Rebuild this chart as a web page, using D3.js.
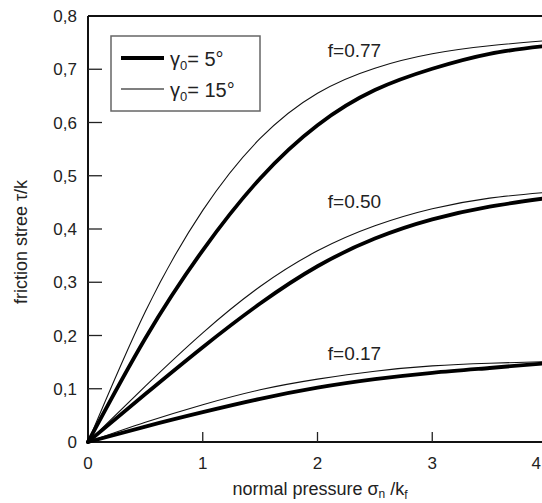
<!DOCTYPE html>
<html><head><meta charset="utf-8">
<script src="https://cdn.jsdelivr.net/npm/d3@7"></script>
<style>
html,body{margin:0;padding:0;background:#fff;overflow:hidden}
text{font-family:"Liberation Sans",Arial,sans-serif;fill:#222}
</style></head>
<body>
<svg id="c" width="542" height="503"></svg>
<script>
const xValues = [0,0.5,1,1.5,2,2.5,3,3.5,4];
const f077_g5  = [0,0.195,0.36,0.495,0.595,0.661,0.701,0.729,0.744];
const f077_g15 = [0,0.245,0.435,0.57,0.655,0.702,0.729,0.744,0.754];
const f050_g5  = [0,0.09,0.178,0.26,0.33,0.382,0.418,0.442,0.458];
const f050_g15 = [0,0.105,0.205,0.292,0.359,0.406,0.438,0.458,0.469];
const f017_g5  = [0,0.029,0.056,0.081,0.102,0.118,0.130,0.139,0.148];
const f017_g15 = [0,0.037,0.07,0.098,0.118,0.133,0.143,0.148,0.151];
const xTicks = [0,1,2,3,4];
const yTicks = [0,0.1,0.2,0.3,0.4,0.5,0.6,0.7,0.8];
const curveLabels = ["f=0.77","f=0.50","f=0.17"];
const curveLabelPos = [[2.09,0.723],[2.09,0.44],[2.09,0.154]];
const legendLabels = ["5°","15°"];

const svg = d3.select("#c");
const x = d3.scaleLinear().domain([0,4]).range([88,547]);
const y = d3.scaleLinear().domain([0,0.8]).range([442,16]);

// frame
svg.append("line").attr("x1",88).attr("x2",542).attr("y1",16).attr("y2",16).attr("stroke","#111").attr("stroke-width",2);
svg.append("line").attr("x1",88).attr("x2",88).attr("y1",16).attr("y2",442).attr("stroke","#111").attr("stroke-width",2);
svg.append("line").attr("x1",87).attr("x2",542).attr("y1",442).attr("y2",442).attr("stroke","#111").attr("stroke-width",2);

// y ticks (inward)
yTicks.forEach(v=>{
  if(v>0 && v<0.8) svg.append("line").attr("x1",88).attr("x2",102).attr("y1",y(v)).attr("y2",y(v)).attr("stroke","#222").attr("stroke-width",1.3);
  svg.append("text").attr("x",77).attr("y",y(v)+6).attr("text-anchor","end").attr("font-size",17)
    .text(v===0?"0":d3.format(".1f")(v).replace(".",","));
});
// x ticks
xTicks.forEach(v=>{
  if(v>0 && v<4) svg.append("line").attr("x1",x(v)).attr("x2",x(v)).attr("y1",442).attr("y2",432).attr("stroke","#222").attr("stroke-width",1.3);
  const last = v===4;
  svg.append("text").attr("x",last?541:x(v)).attr("y",469).attr("text-anchor",last?"end":"middle").attr("font-size",17).text(v);
});

// axis titles
const xt = svg.append("text").attr("x",320).attr("y",495).attr("text-anchor","middle").attr("font-size",18);
xt.append("tspan").text("normal pressure σ");
xt.append("tspan").attr("font-size",12).attr("dy",3).text("n");
xt.append("tspan").attr("dy",-3).text(" /k");
xt.append("tspan").attr("font-size",12).attr("dy",4).text("f");

svg.append("text").attr("transform","translate(27,242) rotate(-90)").attr("text-anchor","middle").attr("font-size",18)
  .text("friction stree τ/k");

// curves
const line = d3.line().x((d,i)=>x(xValues[i])).y(d=>y(d)).curve(d3.curveNatural);
const g = svg.append("g");
[f077_g15,f050_g15,f017_g15].forEach(s=>g.append("path").attr("d",line(s)).attr("fill","none").attr("stroke","#111").attr("stroke-width",1.1));
[f077_g5,f050_g5,f017_g5].forEach(s=>g.append("path").attr("d",line(s)).attr("fill","none").attr("stroke","#000").attr("stroke-width",3.8).attr("stroke-linecap","round"));

curveLabels.forEach((t,i)=>{
  svg.append("text").attr("x",x(curveLabelPos[i][0])).attr("y",y(curveLabelPos[i][1])).attr("font-size",19).text(t);
});

// legend
svg.append("rect").attr("x",111).attr("y",36).attr("width",149).attr("height",75).attr("fill","#fff").attr("stroke","#666").attr("stroke-width",1.5);
const legW = [3.8,1.1];
legendLabels.forEach((t,i)=>{
  const ly = 58 + i*31;
  svg.append("line").attr("x1",121).attr("x2",164).attr("y1",ly).attr("y2",ly).attr("stroke","#000").attr("stroke-width",legW[i]);
  const tx = svg.append("text").attr("x",170).attr("y",ly+8).attr("font-size",20);
  tx.append("tspan").text("γ");
  tx.append("tspan").attr("font-size",13).attr("dy",4).text("0");
  tx.append("tspan").attr("dy",-4).text("= "+t);
});
</script>
</body></html>
